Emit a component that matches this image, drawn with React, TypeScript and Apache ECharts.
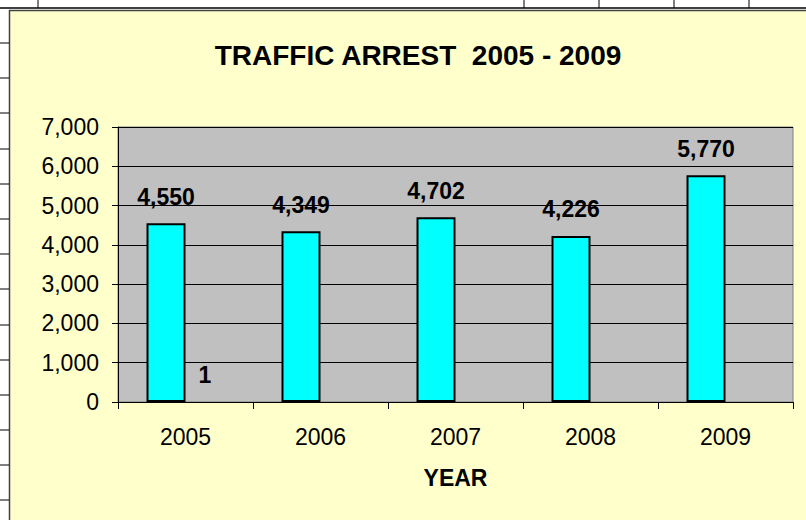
import React, { useEffect, useRef } from "react";
import * as echarts from "echarts";

const categories = ["2005", "2006", "2007", "2008", "2009"];
const arrests = [4550, 4349, 4702, 4226, 5770];
const secondSeries = [1, null, null, null, null];
const yTicks = [0, 1000, 2000, 3000, 4000, 5000, 6000, 7000];
const titleText = "TRAFFIC ARREST  2005 - 2009";
const xAxisName = "YEAR";

const FONT = "'Liberation Sans', Arial, Helvetica, sans-serif";

export default function App() {
  const ref = useRef<HTMLDivElement>(null);

  useEffect(() => {
    if (!ref.current) return;
    const chart = echarts.init(ref.current, null, { renderer: "svg" });

    const fmt = (v: number) => Number(v).toLocaleString("en-US");

    const sheetRowLines = [43, 78, 113, 149, 184, 219, 254, 289, 325, 360, 395, 430, 465, 500];
    const sheetColLines = [38, 524, 599, 674, 749];

    const graphics: any[] = [];
    graphics.push({
      type: "line",
      shape: { x1: 0, y1: 8, x2: 806, y2: 8 },
      style: { stroke: "#000", lineWidth: 1.5 },
      z: 0,
    });
    sheetColLines.forEach((x) =>
      graphics.push({
        type: "line",
        shape: { x1: x, y1: 0, x2: x, y2: 8 },
        style: { stroke: "#000", lineWidth: 1 },
        z: 0,
      })
    );
    sheetRowLines.forEach((y) =>
      graphics.push({
        type: "line",
        shape: { x1: 0, y1: y, x2: 9, y2: y },
        style: { stroke: "#000", lineWidth: 1 },
        z: 0,
      })
    );
    graphics.push({
      type: "rect",
      shape: { x: 9.5, y: 10.5, width: 820, height: 530 },
      style: { fill: "#FFFFCC", stroke: "#404040", lineWidth: 1.5 },
      z: -10,
      silent: true,
    });
    graphics.push({
      type: "text",
      x: 418,
      y: 55,
      style: {
        text: titleText,
        fontFamily: FONT,
        fontSize: 28,
        fontWeight: "bold",
        fill: "#000",
        textAlign: "center",
        textVerticalAlign: "middle",
      },
      z: 10,
    });

    chart.setOption({
      animation: false,
      backgroundColor: "#FFFFFF",
      textStyle: { fontFamily: FONT },
      graphic: graphics,
      grid: {
        left: 118,
        top: 127,
        right: 13,
        bottom: 118,
        show: true,
        backgroundColor: "#C0C0C0",
        borderColor: "#808080",
        borderWidth: 1,
        containLabel: false,
      },
      xAxis: {
        type: "category",
        data: categories,
        axisLine: { show: true, lineStyle: { color: "#000", width: 1 } },
        axisTick: { show: true, alignWithLabel: false, length: 7, lineStyle: { color: "#000" } },
        axisLabel: { fontSize: 23, color: "#000", margin: 23, fontFamily: FONT },
        name: xAxisName,
        nameLocation: "middle",
        nameGap: 64,
        nameTextStyle: { fontSize: 23, fontWeight: "bold", color: "#000", fontFamily: FONT },
        splitLine: { show: false },
      },
      yAxis: {
        type: "value",
        min: yTicks[0],
        max: yTicks[yTicks.length - 1],
        interval: yTicks[1] - yTicks[0],
        axisLine: { show: true, lineStyle: { color: "#000", width: 1 } },
        axisTick: { show: true, length: 6, lineStyle: { color: "#000" } },
        axisLabel: {
          fontSize: 23,
          color: "#000",
          margin: 19,
          fontFamily: FONT,
          formatter: (v: number) => fmt(v),
        },
        splitLine: { show: true, lineStyle: { color: "#000", width: 1 } },
      },
      series: [
        {
          type: "bar",
          data: arrests,
          barWidth: 39,
          barGap: "0%",
          itemStyle: { color: "#00FFFF", borderColor: "#000", borderWidth: 2 },
          label: {
            show: true,
            position: "top",
            distance: 15,
            fontSize: 23,
            fontWeight: "bold",
            color: "#000",
            fontFamily: FONT,
            formatter: (p: any) => fmt(p.value),
          },
        },
        {
          type: "bar",
          data: secondSeries,
          barWidth: 39,
          barGap: "0%",
          itemStyle: { color: "#993366", borderWidth: 0 },
          label: {
            show: true,
            position: "top",
            distance: 15,
            fontSize: 23,
            fontWeight: "bold",
            color: "#000",
            fontFamily: FONT,
            formatter: (p: any) => (p.value == null ? "" : fmt(p.value)),
          },
        },
      ],
    });

    return () => chart.dispose();
  }, []);

  return (
    <div
      ref={ref}
      style={{ position: "fixed", left: 0, top: 0, width: 806, height: 520 }}
    />
  );
}
